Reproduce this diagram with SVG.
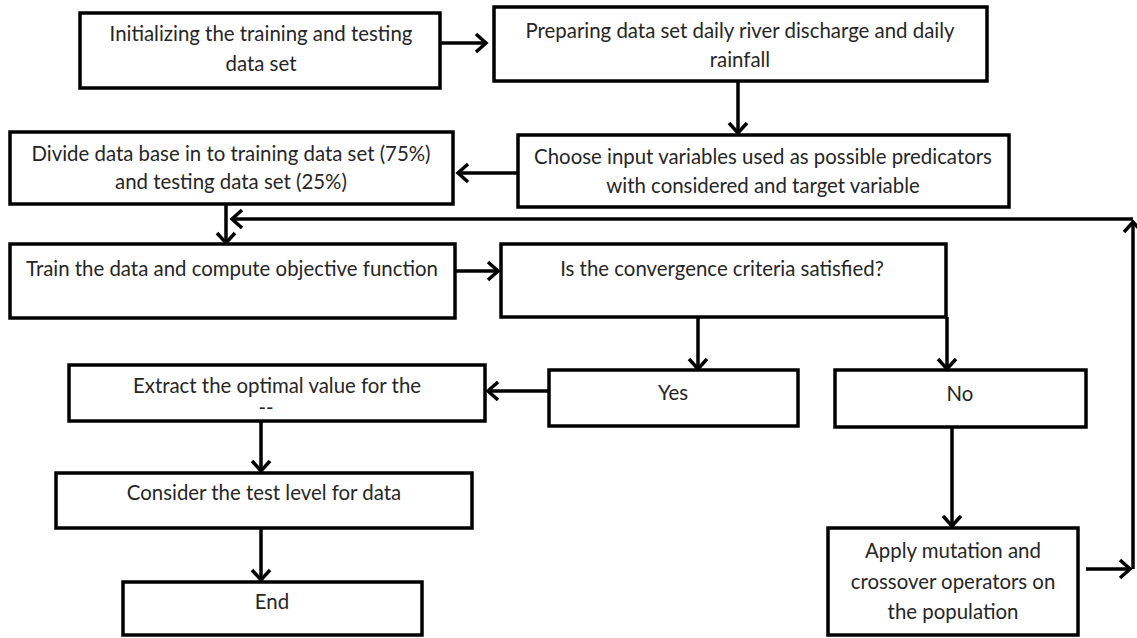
<svg xmlns="http://www.w3.org/2000/svg" width="1137" height="638" viewBox="0 0 1137 638">
  <style>
    .box { fill: #ffffff; stroke: #000000; stroke-width: 3.5; }
    .lbl { font-family: Lato, "Liberation Sans", sans-serif; font-size: 20.4px; fill: #262626; text-anchor: middle; }
    .conn { fill: none; stroke: #000000; stroke-width: 3.5; }
  </style>
  <defs>
    <marker id="arrow" markerUnits="userSpaceOnUse" viewBox="-3 -3 16 24" markerWidth="16" markerHeight="24" refX="10" refY="9" orient="auto">
      <path d="M0,0 L10,9 L0,18" fill="none" stroke="#000000" stroke-width="3.5"/>
    </marker>
  </defs>
  <rect width="1137" height="638" fill="#ffffff"/>

  <g id="connectors">
    <line class="conn" x1="440" y1="43" x2="486" y2="43" marker-end="url(#arrow)"/>
    <line class="conn" x1="738" y1="81" x2="738" y2="133" marker-end="url(#arrow)"/>
    <line class="conn" x1="518" y1="173" x2="458" y2="173" marker-end="url(#arrow)"/>
    <line class="conn" x1="226" y1="204" x2="226" y2="243" marker-end="url(#arrow)"/>
    <line class="conn" x1="455" y1="271" x2="498" y2="271" marker-end="url(#arrow)"/>
    <line class="conn" x1="698" y1="317" x2="698" y2="369" marker-end="url(#arrow)"/>
    <line class="conn" x1="947" y1="317" x2="947" y2="369" marker-end="url(#arrow)"/>
    <line class="conn" x1="549" y1="391" x2="488" y2="391" marker-end="url(#arrow)"/>
    <line class="conn" x1="261" y1="421" x2="261" y2="471" marker-end="url(#arrow)"/>
    <line class="conn" x1="261" y1="528" x2="261" y2="580" marker-end="url(#arrow)"/>
    <line class="conn" x1="952" y1="427" x2="952" y2="526" marker-end="url(#arrow)"/>
    <line class="conn" x1="1086" y1="569" x2="1130" y2="569" marker-end="url(#arrow)"/>
    <line class="conn" x1="1133" y1="569" x2="1133" y2="222" marker-end="url(#arrow)"/>
    <line class="conn" x1="1133" y1="219" x2="232" y2="219" marker-end="url(#arrow)"/>
  </g>

  <g id="node-init">
    <rect class="box" x="80" y="13" width="360" height="75"/>
    <text class="lbl" x="261" y="41">Initializing the training and testing</text>
    <text class="lbl" x="261" y="71">data set</text>
  </g>
  <g id="node-prepare">
    <rect class="box" x="494" y="7" width="493" height="74"/>
    <text class="lbl" x="740" y="38">Preparing data set daily river discharge and daily</text>
    <text class="lbl" x="740" y="67">rainfall</text>
  </g>
  <g id="node-choose">
    <rect class="box" x="518" y="135" width="491" height="72"/>
    <text class="lbl" x="763" y="164">Choose input variables used as possible predicators</text>
    <text class="lbl" x="763" y="193">with considered and target variable</text>
  </g>
  <g id="node-divide">
    <rect class="box" x="10" y="132" width="443" height="72"/>
    <text class="lbl" x="231" y="161">Divide data base in to training data set (75%)</text>
    <text class="lbl" x="231" y="189">and testing data set (25%)</text>
  </g>
  <g id="node-train">
    <rect class="box" x="10" y="244" width="445" height="74"/>
    <text class="lbl" x="232" y="276">Train the data and compute objective function</text>
  </g>
  <g id="node-converge">
    <rect class="box" x="501" y="244" width="445" height="73"/>
    <text class="lbl" x="722" y="276">Is the convergence criteria satisfied?</text>
  </g>
  <g id="node-yes">
    <rect class="box" x="549" y="370" width="249" height="56"/>
    <text class="lbl" x="673" y="400">Yes</text>
  </g>
  <g id="node-no">
    <rect class="box" x="835" y="370" width="251" height="57"/>
    <text class="lbl" x="960" y="401">No</text>
  </g>
  <g id="node-extract">
    <rect class="box" x="69" y="365" width="416" height="56"/>
    <text class="lbl" x="277" y="393">Extract the optimal value for the</text>
    <text class="lbl" x="266" y="415">--</text>
  </g>
  <g id="node-consider">
    <rect class="box" x="56" y="473" width="416" height="55"/>
    <text class="lbl" x="264" y="500">Consider the test level for data</text>
  </g>
  <g id="node-end">
    <rect class="box" x="123" y="582" width="299" height="53"/>
    <text class="lbl" x="272" y="609">End</text>
  </g>
  <g id="node-apply">
    <rect class="box" x="828" y="528" width="250" height="107"/>
    <text class="lbl" x="953" y="558">Apply mutation and</text>
    <text class="lbl" x="953" y="589">crossover operators on</text>
    <text class="lbl" x="953" y="619">the population</text>
  </g>
</svg>
